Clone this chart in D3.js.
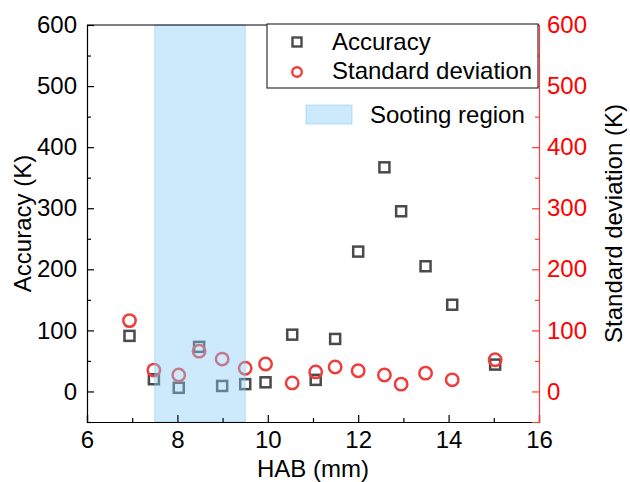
<!DOCTYPE html>
<html>
<head>
<meta charset="utf-8">
<script src="https://cdn.jsdelivr.net/npm/d3@7"></script>
<style>
  body { margin: 0; background: #fff; }
  text { font-family: Arial, "Liberation Sans", sans-serif; }
</style>
</head>
<body>
<div id="chart"></div>
<script>
// HAB positions (mm)
const hab = [6.94, 7.48, 8.03, 8.48, 8.99, 9.5, 9.95, 10.54, 11.06, 11.49, 12.0, 12.58, 12.95, 13.49, 14.08, 15.03]
// Accuracy (K)
const accuracy = [91, 20, 6, 73, 9, 12, 15, 93, 19, 86, 229, 367, 295, 205, 142, 44]
// Standard deviation (K)
const stdDev = [116, 35, 27, 66, 53, 38, 45, 14, 32, 40, 34, 27, 12, 30, 19, 52]
// Sooting region (mm)
const sootRange = [7.5, 9.5]
const xTicks = [6, 8, 10, 12, 14, 16]
const yTicks = [0, 100, 200, 300, 400, 500, 600]

const width = 630, height = 482
const margin = { top: 25, right: 91, bottom: 60, left: 87 }
const w = width - margin.left - margin.right,
  h = height - margin.top - margin.bottom
const fs = 24

const svg = d3.select('#chart').append('svg')
  .attr('width', width)
  .attr('height', height)

const g = svg.append('g')
  .attr('transform', 'translate(' + margin.left + ',' + margin.top + ')')

const x = d3.scaleLinear().domain([6, 16]).range([0, w])
const y = d3.scaleLinear().domain([-50, 600]).range([h, 0])
const y2 = d3.scaleLinear().domain([-50, 600]).range([h, 0])

const data = hab.map((v, i) => ({ hab: v, acc: accuracy[i], sd: stdDev[i] }))

// markers
const sq = 10
g.selectAll('.acc').data(data).enter().append('rect')
  .attr('class', 'acc')
  .attr('x', d => x(d.hab) - sq / 2)
  .attr('y', d => y(d.acc) - sq / 2)
  .attr('width', sq).attr('height', sq)
  .attr('fill', 'none').attr('stroke', '#4a4a4a').attr('stroke-width', 2.5)

g.selectAll('.sd').data(data).enter().append('circle')
  .attr('class', 'sd')
  .attr('cx', d => x(d.hab))
  .attr('cy', d => y2(d.sd))
  .attr('r', 6.2)
  .attr('fill', 'none').attr('stroke', '#f03c3c').attr('stroke-width', 2.5)

// sooting region overlay
g.append('rect')
  .attr('x', x(sootRange[0]))
  .attr('y', 0)
  .attr('width', x(sootRange[1]) - x(sootRange[0]))
  .attr('height', h)
  .attr('fill', 'rgba(135,206,250,0.42)')
  .attr('stroke', 'rgba(120,195,240,0.5)')
  .attr('stroke-width', 1)

// axes
const minorX = d3.range(7, 16, 2)
const minorY = d3.range(-50, 600, 100)

const xAxis = g.append('g').attr('transform', 'translate(0,' + h + ')')
  .call(d3.axisBottom(x).tickValues(xTicks).tickSize(-7).tickPadding(9).tickFormat(d3.format('d')))
const xMinor = g.append('g').attr('transform', 'translate(0,' + h + ')')
  .call(d3.axisBottom(x).tickValues(minorX).tickSize(-4).tickFormat(''))
xMinor.select('.domain').remove()

const yAxis = g.append('g')
  .call(d3.axisLeft(y).tickValues(yTicks).tickSize(-7).tickPadding(10))
const yMinor = g.append('g')
  .call(d3.axisLeft(y).tickValues(minorY).tickSize(-4).tickFormat(''))
yMinor.select('.domain').remove()

const y2Axis = g.append('g').attr('transform', 'translate(' + w + ',0)')
  .call(d3.axisRight(y2).tickValues(yTicks).tickSize(-7).tickPadding(8))
const y2Minor = g.append('g').attr('transform', 'translate(' + w + ',0)')
  .call(d3.axisRight(y2).tickValues(minorY).tickSize(-4).tickFormat(''))
y2Minor.select('.domain').remove()

// top frame line
g.append('line').attr('x1', 0).attr('x2', w).attr('y1', 0).attr('y2', 0)
  .attr('stroke', '#000').attr('stroke-width', 1.2)

g.selectAll('.domain').attr('stroke-width', 1.2)
g.selectAll('.tick line').attr('stroke-width', 1.2)
g.selectAll('.tick text').attr('font-size', fs).attr('fill', '#000')
y2Axis.selectAll('.domain').attr('stroke', '#ff3b3b')
y2Axis.selectAll('.tick line').attr('stroke', '#ff3b3b')
y2Minor.selectAll('.tick line').attr('stroke', '#ff3b3b')
y2Axis.selectAll('.tick text').attr('fill', '#ff0000')

// axis titles
svg.append('text')
  .attr('transform', 'translate(31,' + (margin.top + h / 2) + ') rotate(-90)')
  .attr('text-anchor', 'middle')
  .attr('font-size', fs)
  .text('Accuracy (K)')

svg.append('text')
  .attr('transform', 'translate(622,' + (margin.top + h / 2) + ') rotate(-90)')
  .attr('text-anchor', 'middle')
  .attr('font-size', fs)
  .text('Standard deviation (K)')

svg.append('text')
  .attr('x', margin.left + w / 2)
  .attr('y', 477)
  .attr('text-anchor', 'middle')
  .attr('font-size', fs)
  .text('HAB (mm)')

// legend
const lg = svg.append('g')
lg.append('rect')
  .attr('x', 267).attr('y', 24).attr('width', 271).attr('height', 64)
  .attr('fill', '#fff').attr('stroke', '#333').attr('stroke-width', 1.2)
lg.append('rect')
  .attr('x', 297 - 4.5).attr('y', 42 - 4.5).attr('width', 9).attr('height', 9)
  .attr('fill', 'none').attr('stroke', '#4a4a4a').attr('stroke-width', 2.4)
lg.append('text').attr('x', 332).attr('y', 50).attr('font-size', fs).text('Accuracy')
lg.append('circle').attr('cx', 297).attr('cy', 72).attr('r', 4.8)
  .attr('fill', 'none').attr('stroke', '#f03c3c').attr('stroke-width', 2.4)
lg.append('text').attr('x', 332).attr('y', 79).attr('font-size', fs).text('Standard deviation')
lg.append('rect')
  .attr('x', 306).attr('y', 105).attr('width', 46).attr('height', 19)
  .attr('fill', 'rgba(135,206,250,0.42)').attr('stroke', 'rgba(120,195,240,0.5)')
lg.append('text').attr('x', 370).attr('y', 123).attr('font-size', fs).text('Sooting region')
</script>
</body>
</html>
